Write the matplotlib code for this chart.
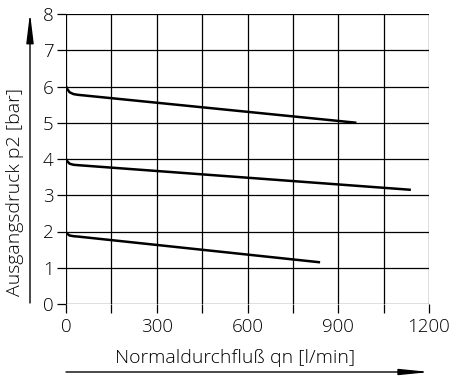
import matplotlib
matplotlib.use("Agg")
import matplotlib.pyplot as plt
from matplotlib.patches import FancyArrowPatch
from matplotlib.ticker import MultipleLocator

plt.rcParams['font.family'] = ['Open Sans', 'DejaVu Sans']
plt.rcParams['font.weight'] = 'light'

# Data (flow in l/min, output pressure in bar)
flow_6 = [0, 5, 12, 25, 40, 960]
p_6 = [6.0, 5.92, 5.84, 5.79, 5.77, 5.0]
flow_4 = [0, 5, 12, 25, 40, 1140]
p_4 = [4.0, 3.93, 3.87, 3.84, 3.83, 3.15]
flow_2 = [0, 5, 12, 25, 40, 840]
p_2 = [1.98, 1.93, 1.89, 1.87, 1.86, 1.15]

x_ticks = [0, 300, 600, 900, 1200]
y_ticks = [0, 1, 2, 3, 4, 5, 6, 7, 8]
x_label = "Normaldurchfluß qn [l/min]"
y_label = "Ausgangsdruck p2 [bar]"

W, H = 454, 379
fig = plt.figure(figsize=(W / 100, H / 100), dpi=100)
ax = fig.add_axes([66 / W, (H - 304) / H, (429 - 66) / W, (304 - 14) / H])

for fx, py in [(flow_6, p_6), (flow_4, p_4), (flow_2, p_2)]:
    ax.plot(fx, py, color='black', lw=1.8, solid_capstyle='butt', zorder=3)

ax.set_xlim(0, 1200)
ax.set_ylim(0, 8)
ax.set_xticks(x_ticks)
ax.xaxis.set_minor_locator(MultipleLocator(150))
ax.set_yticks(y_ticks)
ax.grid(True, which='both', color='black', lw=0.9)
for s in ax.spines.values():
    s.set_visible(False)
ax.tick_params(which='both', direction='out', length=6.5, width=0.9, color='black',
               labelsize=13.5, pad=2.5)
ax.tick_params(axis='x', which='both', pad=3.5)

fig.text(235 / W, (H - 358) / H, x_label, ha='center', va='center', fontsize=14)
fig.text(15 / W, (H - 192) / H, y_label, ha='center', va='center', fontsize=14,
         rotation=90)

# axis arrows
fig.patches.append(FancyArrowPatch((30, H - 303), (30, H - 13), transform=None,
                                   arrowstyle='-|>,head_length=1.8,head_width=0.22',
                                   mutation_scale=10, color='black', lw=1.0,
                                   shrinkA=0, shrinkB=0))
fig.patches.append(FancyArrowPatch((66, H - 372), (430, H - 372), transform=None,
                                   arrowstyle='-|>,head_length=1.8,head_width=0.18',
                                   mutation_scale=10, color='black', lw=1.0,
                                   shrinkA=0, shrinkB=0))

fig.savefig("out.png", dpi=100)
